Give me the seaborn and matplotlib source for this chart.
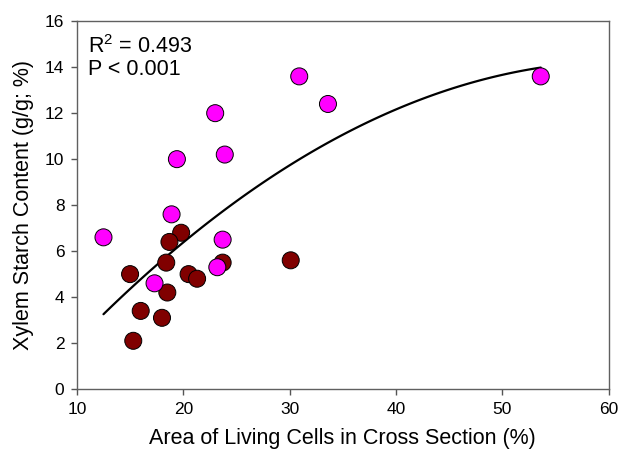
import matplotlib
matplotlib.use("Agg")
import matplotlib.pyplot as plt
import seaborn as sns
import pandas as pd

# Area of living cells (%) and xylem starch content (g/g; %)
group_a_area = [12.5, 18.9, 23.7, 23.2, 17.3, 30.9, 33.6, 23.0, 19.4, 23.9, 53.6]
group_a_starch = [6.6, 7.6, 6.5, 5.3, 4.6, 13.6, 12.4, 12.0, 10.0, 10.2, 13.6]
group_b_area = [19.8, 18.7, 18.4, 23.7, 15.0, 20.5, 21.3, 18.5, 16.0, 18.0, 15.3, 30.1]
group_b_starch = [6.8, 6.4, 5.5, 5.5, 5.0, 5.0, 4.8, 4.2, 3.4, 3.1, 2.1, 5.6]
group_names = ["A", "B"]
group_colors = {"A": "#FF00FF", "B": "#800000"}
x_ticks = [10, 20, 30, 40, 50, 60]
y_ticks = [0, 2, 4, 6, 8, 10, 12, 14, 16]

df = pd.DataFrame({
    "area": group_b_area + group_a_area,
    "starch": group_b_starch + group_a_starch,
    "group": ["B"] * len(group_b_area) + ["A"] * len(group_a_area),
})

sns.set_style("ticks")
plt.rcParams["font.family"] = ["Liberation Sans", "DejaVu Sans"]
plt.rcParams["mathtext.fontset"] = "custom"
plt.rcParams["mathtext.rm"] = "Liberation Sans"
plt.rcParams["text.color"] = "black"
plt.rcParams["axes.labelcolor"] = "black"
plt.rcParams["xtick.color"] = "black"
plt.rcParams["ytick.color"] = "black"

fig = plt.figure(figsize=(6.2, 4.61), dpi=100)
ax = fig.add_axes([0.124, 0.156, 0.858, 0.798])

# Quadratic regression through all points
sns.regplot(data=df, x="area", y="starch", order=2, ci=None, scatter=False,
            truncate=True, color="black", line_kws={"linewidth": 1.6}, ax=ax)

sns.scatterplot(data=df, x="area", y="starch", hue="group", palette=group_colors,
                s=150, edgecolor="black", linewidth=0.7, legend=False, ax=ax,
                zorder=3)

ax.set_xlim(10, 60)
ax.set_ylim(0, 16)
ax.set_xticks(x_ticks)
ax.set_yticks(y_ticks)
ax.tick_params(labelsize=12.5, length=4, width=1, color="#555555", labelcolor="black", pad=5)
for side in ["left", "right", "top", "bottom"]:
    ax.spines[side].set_visible(True)
    ax.spines[side].set_color("#606060")
    ax.spines[side].set_linewidth(1.0)

ax.set_xlabel("Area of Living Cells in Cross Section (%)", fontsize=15.5, labelpad=8)
ax.set_ylabel("Xylem Starch Content (g/g; %)", fontsize=15.5, labelpad=8)

ax.text(0.021, 0.913, r"R$^\mathrm{2}$ = 0.493", transform=ax.transAxes, fontsize=15.5,
        va="baseline", ha="left")
ax.text(0.021, 0.853, "P < 0.001", transform=ax.transAxes, fontsize=15.5,
        va="baseline", ha="left")

fig.savefig("out.png", dpi=100)
